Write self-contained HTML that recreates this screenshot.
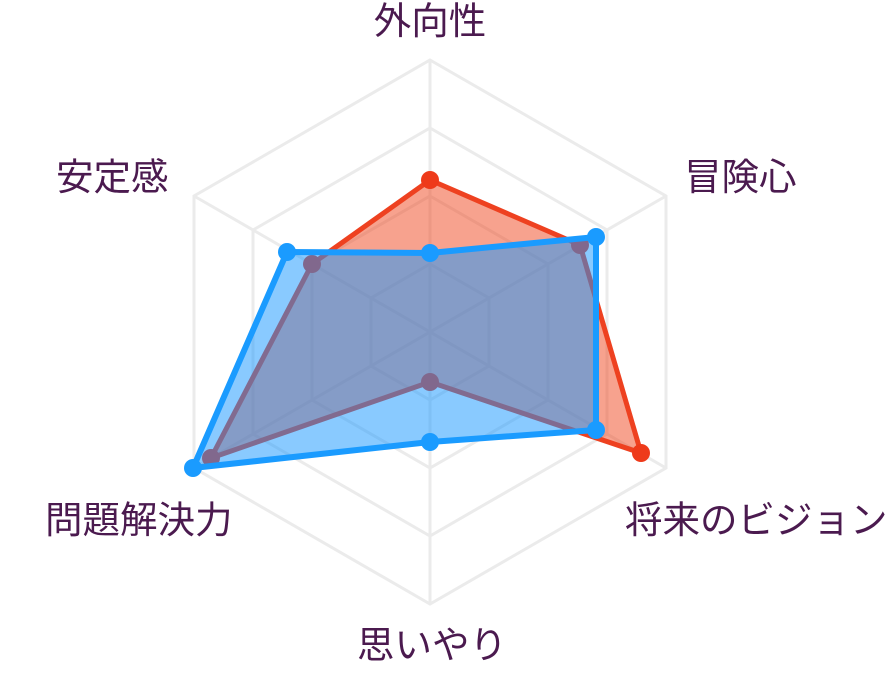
<!DOCTYPE html>
<html><head><style>
body{margin:0;background:#fff;}
text{font-family:"Liberation Sans","Noto Sans CJK JP",sans-serif;font-size:37.5px;fill:#4b1a4f;}
</style></head><body>
<svg width="894" height="668" viewBox="0 0 894 668">
<g fill="none" stroke="#ebebeb" stroke-width="3">
<polygon points="430,60 666,196 666,468 430,604 194,468 194,196"/>
<polygon points="430,128 607,230 607,434 430,536 253,434 253,230"/>
<polygon points="430,196 548,264 548,400 430,468 312,400 312,264"/>
<polygon points="430,264 489,298 489,366 430,400 371,366 371,298"/>
<line x1="430" y1="60" x2="430" y2="604"/>
<line x1="194" y1="196" x2="666" y2="468"/>
<line x1="666" y1="196" x2="194" y2="468"/>
</g>
<g>
<polygon points="430,180 580,245 641,453 430,382 211,458 312,264" fill="rgba(240,70,30,0.5)" stroke="#ee4120" stroke-width="5" stroke-linejoin="round"/>
<g fill="#ee3a1a"><circle cx="430" cy="180" r="9"/><circle cx="580" cy="245" r="9"/><circle cx="641" cy="453" r="9"/><circle cx="430" cy="382" r="9"/><circle cx="211" cy="458" r="9"/><circle cx="312" cy="264" r="9"/></g>
<polygon points="430,253 596,237 596,430 430,442 193,468 287,252" fill="rgba(20,150,255,0.5)" stroke="none"/>
<polygon points="430,253 596,237 596,430 430,442 193,468 287,252" fill="none" stroke="#1a9bff" stroke-width="6" stroke-linejoin="round"/>
<g fill="#1a9bff"><circle cx="430" cy="253" r="9"/><circle cx="596" cy="237" r="9"/><circle cx="596" cy="430" r="9"/><circle cx="430" cy="442" r="9"/><circle cx="193" cy="468" r="9"/><circle cx="287" cy="252" r="9"/></g>
</g>
<text x="430" y="34" text-anchor="middle">外向性</text>
<text x="684" y="190">冒険心</text>
<text x="625" y="533">将来のビジョン</text>
<text x="432" y="658" text-anchor="middle">思いやり</text>
<text x="45" y="533">問題解決力</text>
<text x="56" y="190">安定感</text>
</svg>
</body></html>
